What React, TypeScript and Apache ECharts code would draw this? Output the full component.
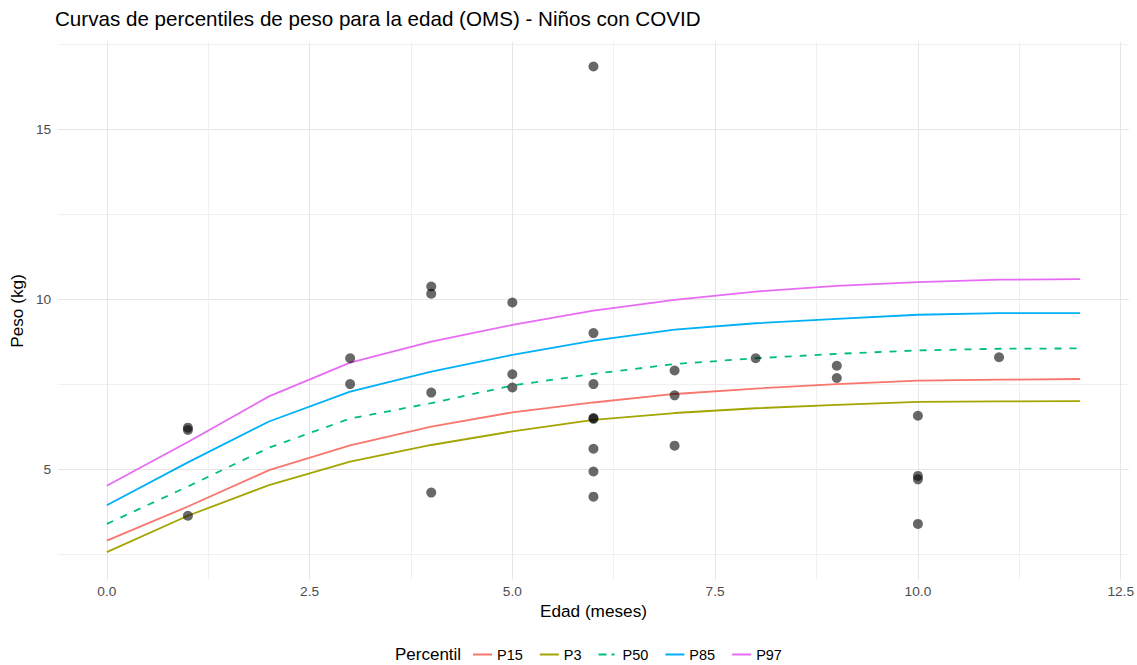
import React, { useEffect, useRef } from "react";
import * as echarts from "echarts";

// Percentile curves (months 0..12)
const months = [0, 1, 2, 3, 4, 5, 6, 7, 8, 9, 10, 11, 12];
const p3 = [2.56, 3.63, 4.53, 5.22, 5.71, 6.11, 6.45, 6.65, 6.79, 6.89, 6.98, 6.99, 7.0];
const p15 = [2.9, 3.9, 4.97, 5.7, 6.25, 6.67, 6.96, 7.21, 7.37, 7.5, 7.6, 7.63, 7.65];
const p50 = [3.39, 4.49, 5.63, 6.49, 6.94, 7.46, 7.8, 8.09, 8.26, 8.39, 8.49, 8.54, 8.55];
const p85 = [3.94, 5.2, 6.4, 7.28, 7.87, 8.36, 8.78, 9.1, 9.29, 9.42, 9.54, 9.59, 9.59];
const p97 = [4.51, 5.8, 7.14, 8.13, 8.75, 9.24, 9.66, 9.98, 10.22, 10.39, 10.5, 10.57, 10.59];

// Observed children (age in months, weight in kg)
const childAge = [1, 1, 1, 3, 3, 4, 4, 4, 4, 5, 5, 5, 6, 6, 6, 6, 6, 6, 6, 6, 7, 7, 7, 8, 9, 9, 10, 10, 10, 10, 11];
const childWeight = [6.22, 6.15, 3.63, 8.26, 7.5, 10.37, 10.16, 7.25, 4.31, 9.9, 7.79, 7.4, 16.84, 9.0, 7.5, 6.5, 6.48, 5.6, 4.93, 4.19, 7.9, 7.17, 5.69, 8.26, 8.04, 7.68, 6.57, 4.8, 4.7, 3.39, 8.29];

// Axis ticks
const xMajor = [0, 2.5, 5, 7.5, 10, 12.5];
const xMinor = [1.25, 3.75, 6.25, 8.75, 11.25];
const yMajor = [5, 10, 15];
const yMinor = [2.5, 7.5, 12.5, 17.5];

const percentiles = [
  { name: "P15", values: p15, color: "#F8766D", dashed: false },
  { name: "P3", values: p3, color: "#A3A500", dashed: false },
  { name: "P50", values: p50, color: "#00BF7D", dashed: true },
  { name: "P85", values: p85, color: "#00B0F6", dashed: false },
  { name: "P97", values: p97, color: "#E76BF3", dashed: false },
];

const FONT = "'Liberation Sans', Arial, sans-serif";
const SOLID_ICON = "path://M0,0H19V2H0Z";
const DASH_ICON = "path://M0,0H8V2H0Z M13,0H16V2H13Z M19,0H19.01V2H19Z";

export default function App() {
  const ref = useRef<HTMLDivElement>(null);

  useEffect(() => {
    if (!ref.current) return;
    const chart = echarts.init(ref.current, undefined, { renderer: "svg" });

    const lineSeries = percentiles.map((p) => ({
      name: p.name,
      type: "line",
      xAxisIndex: 0,
      yAxisIndex: 0,
      data: months.map((m, i) => [m, p.values[i]]),
      symbol: "none",
      smooth: false,
      lineStyle: {
        color: p.color,
        width: 1.8,
        type: p.dashed ? [7, 8] : "solid",
      },
      itemStyle: { color: p.color },
      z: 2,
    }));

    const option: any = {
      animation: false,
      backgroundColor: "#ffffff",
      textStyle: { fontFamily: FONT },
      title: [
        {
          text: "Curvas de percentiles de peso para la edad (OMS) - Niños con COVID",
          left: 55,
          top: 8,
          padding: 0,
          textStyle: { fontFamily: FONT, fontSize: 20.6, fontWeight: "normal", color: "#000000" },
        },
        {
          text: "Percentil",
          left: 395,
          top: 646,
          padding: 0,
          textStyle: { fontFamily: FONT, fontSize: 17, fontWeight: "normal", color: "#000000" },
        },
      ],
      legend: {
        data: percentiles.map((p) => ({ name: p.name, icon: p.dashed ? DASH_ICON : SOLID_ICON })),
        left: 473,
        top: 647,
        padding: 0,
        itemWidth: 19,
        itemHeight: 2,
        itemGap: 17,
        textStyle: { fontFamily: FONT, fontSize: 14.5, color: "#000000" },
      },
      grid: { left: 55, right: 6, top: 42, bottom: 85, containLabel: false },
      xAxis: [
        {
          type: "value",
          min: -0.6,
          max: 12.6,
          name: "Edad (meses)",
          nameLocation: "middle",
          nameGap: 21,
          nameTextStyle: { fontFamily: FONT, fontSize: 17.2, color: "#000000" },
          axisLine: { show: false },
          axisTick: { show: false, customValues: xMajor },
          axisLabel: {
            customValues: xMajor,
            formatter: (v: number) => v.toFixed(1),
            color: "#4D4D4D",
            fontSize: 13.7,
            margin: 4,
            fontFamily: FONT,
          },
          splitLine: { show: true, lineStyle: { color: "#E6E6E6", width: 1 } },
        },
        {
          type: "value",
          min: -0.6,
          max: 12.6,
          gridIndex: 0,
          position: "bottom",
          axisLine: { show: false },
          axisTick: { show: false, customValues: xMinor },
          axisLabel: { show: false, customValues: xMinor },
          splitLine: { show: true, lineStyle: { color: "#F0F0F0", width: 1 } },
        },
      ],
      yAxis: [
        {
          type: "value",
          min: 1.74,
          max: 17.56,
          name: "Peso (kg)",
          nameLocation: "middle",
          nameGap: 29,
          nameTextStyle: { fontFamily: FONT, fontSize: 17.2, color: "#000000" },
          axisLine: { show: false },
          axisTick: { show: false, customValues: yMajor },
          axisLabel: {
            customValues: yMajor,
            color: "#4D4D4D",
            fontSize: 13.7,
            margin: 7,
            fontFamily: FONT,
          },
          splitLine: { show: true, lineStyle: { color: "#E6E6E6", width: 1 } },
        },
        {
          type: "value",
          min: 1.74,
          max: 17.56,
          gridIndex: 0,
          position: "left",
          axisLine: { show: false },
          axisTick: { show: false, customValues: yMinor },
          axisLabel: { show: false, customValues: yMinor },
          splitLine: { show: true, lineStyle: { color: "#F0F0F0", width: 1 } },
        },
      ],
      series: [
        ...lineSeries,
        {
          name: "Niños",
          type: "scatter",
          xAxisIndex: 0,
          yAxisIndex: 0,
          data: childAge.map((a, i) => [a, childWeight[i]]),
          symbol: "circle",
          symbolSize: 10,
          itemStyle: { color: "rgba(0,0,0,0.74)" },
          z: 3,
        },
      ],
    };

    chart.setOption(option);
    return () => chart.dispose();
  }, []);

  return (
    <div
      ref={ref}
      style={{ position: "fixed", left: 0, top: 0, width: 1137, height: 665, background: "#fff" }}
    />
  );
}
